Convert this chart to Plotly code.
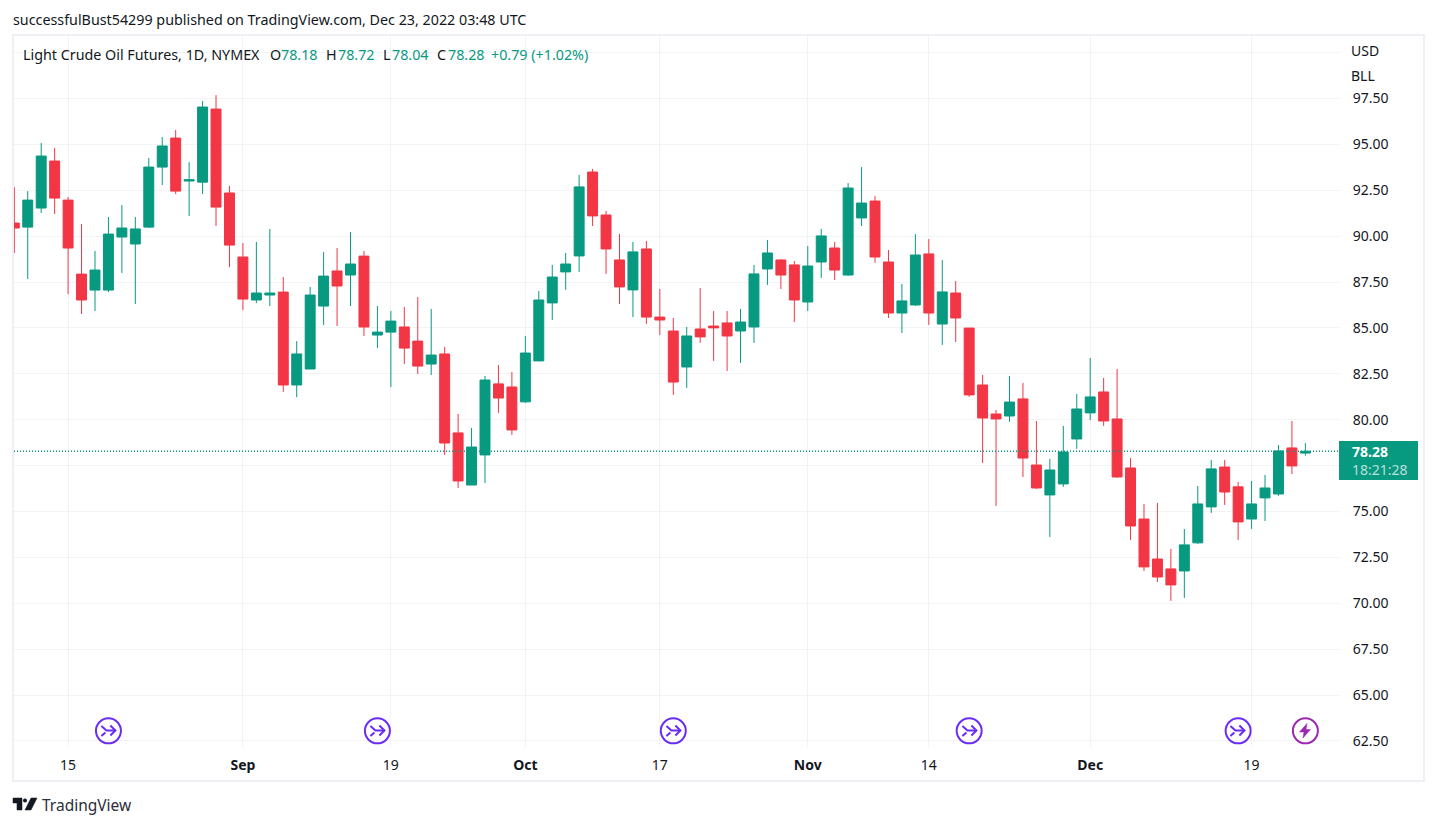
import pandas as pd
import plotly.graph_objects as go

# trading days shown, Labor Day and Thanksgiving have no bar
dates = [d.strftime("%Y-%m-%d") for d in pd.bdate_range("2022-08-09", "2022-12-23") if d.strftime("%Y-%m-%d") not in ("2022-09-05", "2022-11-24")]

opens = [90.71, 90.49, 91.53, 94.09, 91.96, 87.93, 87.06, 87.06, 89.95, 89.57,
         90.49, 93.76, 95.34, 93.00, 92.94, 96.92, 92.35, 88.86, 86.52, 86.79,
         86.95, 81.89, 82.76, 86.19, 88.10, 87.88, 88.91, 84.61, 84.77, 85.05,
         84.28, 83.03, 83.58, 79.28, 76.44, 78.08, 81.95, 81.78, 80.97, 83.20,
         86.36, 88.05, 88.92, 93.49, 91.15, 88.70, 87.07, 89.30, 85.59, 84.83,
         82.87, 84.94, 85.10, 85.27, 84.83, 85.05, 88.21, 88.70, 88.43, 86.41,
         88.59, 89.35, 87.88, 90.99, 91.91, 88.59, 85.81, 86.25, 89.03, 85.21,
         86.90, 84.99, 81.89, 80.31, 80.20, 81.13, 77.53, 75.90, 76.50, 78.95,
         80.37, 81.51, 80.04, 77.37, 74.59, 72.41, 71.87, 71.76, 73.29, 75.25,
         77.42, 76.34, 74.59, 75.74, 75.95, 78.46, 78.18]
highs = [92.67, 92.45, 95.07, 94.80, 92.13, 90.66, 89.19, 91.04, 91.69, 91.04,
         94.25, 95.40, 95.78, 94.03, 97.36, 97.68, 92.73, 89.62, 89.68, 90.39,
         87.77, 84.28, 87.23, 89.13, 89.35, 90.22, 89.19, 86.19, 85.92, 86.14,
         86.68, 86.03, 83.96, 80.31, 79.55, 82.38, 82.98, 82.60, 84.56, 87.01,
         88.43, 89.08, 93.33, 93.66, 91.37, 90.12, 89.68, 89.73, 87.12, 85.54,
         85.05, 87.17, 85.92, 85.92, 86.03, 88.43, 89.79, 88.75, 88.64, 89.46,
         90.39, 89.68, 92.89, 93.76, 92.18, 89.24, 87.39, 90.11, 89.84, 88.70,
         87.55, 84.99, 82.44, 80.53, 82.38, 82.00, 79.93, 77.86, 79.66, 81.40,
         83.36, 82.27, 82.76, 77.91, 75.41, 75.46, 72.96, 74.05, 76.39, 77.81,
         77.81, 76.61, 76.66, 76.99, 78.62, 79.93, 78.72]
lows = [89.08, 87.66, 91.26, 91.20, 86.84, 85.76, 85.92, 86.95, 87.99, 86.30,
        90.44, 92.78, 92.29, 91.09, 92.29, 90.55, 88.31, 85.97, 86.35, 86.19,
        81.51, 81.23, 82.76, 85.16, 85.10, 86.19, 84.56, 83.90, 81.78, 83.03,
        82.49, 82.43, 78.08, 76.28, 76.44, 76.55, 80.37, 79.17, 80.91, 83.20,
        85.43, 87.07, 88.05, 90.55, 87.94, 86.30, 85.59, 85.21, 84.61, 81.35,
        81.73, 84.18, 83.20, 82.65, 83.09, 84.18, 87.34, 87.12, 85.32, 85.92,
        87.72, 87.61, 87.83, 90.55, 88.54, 85.54, 84.72, 86.19, 85.16, 84.07,
        84.23, 81.24, 77.64, 75.30, 79.88, 76.88, 76.23, 73.61, 76.34, 78.41,
        79.98, 79.66, 76.83, 73.45, 71.76, 71.16, 70.13, 70.29, 73.23, 74.92,
        75.36, 73.45, 74.05, 74.48, 75.85, 77.04, 78.04]
closes = [90.44, 91.96, 94.36, 92.07, 89.35, 86.52, 88.15, 90.11, 90.44, 90.39,
          93.76, 94.91, 92.45, 93.07, 97.03, 91.58, 89.51, 86.57, 86.90, 86.90,
          81.89, 83.58, 86.79, 87.82, 87.28, 88.48, 85.05, 84.77, 85.37, 83.90,
          82.92, 83.52, 78.73, 76.66, 78.51, 82.16, 81.18, 79.44, 83.63, 86.52,
          87.77, 88.48, 92.68, 91.10, 89.30, 87.23, 89.14, 85.59, 85.43, 82.05,
          84.56, 84.51, 85.00, 84.56, 85.32, 87.94, 89.08, 87.88, 86.52, 88.37,
          90.01, 88.15, 92.62, 91.80, 88.86, 85.81, 86.47, 88.97, 85.81, 86.96,
          85.54, 81.35, 80.09, 80.04, 80.96, 77.91, 76.28, 77.26, 78.24, 80.58,
          81.24, 79.93, 76.88, 74.21, 71.98, 71.43, 71.00, 73.18, 75.41, 77.32,
          76.06, 74.43, 75.41, 76.28, 78.30, 77.48, 78.28]

price_ticks = [62.5, 65, 67.5, 70, 72.5, 75, 77.5, 80, 82.5, 85, 87.5, 90, 92.5, 95, 97.5, 100]
price_labels = ["62.50", "65.00", "67.50", "70.00", "72.50", "75.00", "77.50", "80.00",
                "82.50", "85.00", "87.50", "90.00", "92.50", "95.00", "97.50", ""]
time_ticks = ["2022-08-15", "2022-09-01", "2022-09-19", "2022-10-03", "2022-10-17",
              "2022-11-01", "2022-11-14", "2022-12-01", "2022-12-19"]
time_labels = ["15", "<b>Sep</b>", "19", "<b>Oct</b>", "17", "<b>Nov</b>", "14", "<b>Dec</b>", "19"]

event_days = ["2022-08-18", "2022-09-16", "2022-10-18", "2022-11-17", "2022-12-16"]
alert_days = ["2022-12-23"]

UP = "#089981"
DOWN = "#F23645"
INK = "#131722"
GRID = "#F2F3F5"
FRAME = "#EFF0F5"
EVENT = "#6A2CF5"
ALERT = "#9C27B0"
FONT = "Noto Sans"

W, H = 1437, 826
LEFT, RIGHT, TOP, BOTTOM = 14, 1339, 36, 747


# page pixels to paper coords, all the furniture around the plot is placed this way
def px(x):
    return (x - LEFT) / (RIGHT - LEFT)


def py(y):
    return 1 - (y - TOP) / (BOTTOM - TOP)


def path_of(points):
    return "M " + " L ".join(f"{px(x):.5f},{py(y):.5f}" for x, y in points)


def label(x, y, text, color=INK, size=14.3, anchor="left"):
    fig.add_annotation(xref="paper", yref="paper", x=px(x), y=py(y), text=text, showarrow=False,
                       xanchor=anchor, yanchor="middle", align="left", borderpad=0, borderwidth=0,
                       font=dict(family=FONT, size=size, color=color))


def line_shape(points, color, width=2, fill=None):
    fig.add_shape(type="path", xref="paper", yref="paper", path=path_of(points) + (" Z" if fill else ""),
                  line=dict(color=color, width=width), fillcolor=fill, layer="above")


fig = go.Figure()

fig.add_trace(go.Candlestick(
    x=dates, open=opens, high=highs, low=lows, close=closes,
    increasing=dict(line=dict(color=UP, width=1), fillcolor=UP),
    decreasing=dict(line=dict(color=DOWN, width=1), fillcolor=DOWN),
    whiskerwidth=0, hoverinfo="skip", showlegend=False,
))

# event badges along the bottom of the plot
fig.add_trace(go.Scatter(
    x=event_days, y=[63.05] * len(event_days), mode="markers", hoverinfo="skip", showlegend=False,
    marker=dict(symbol="circle-open", size=25, color=EVENT, line=dict(color=EVENT, width=2)),
))
fig.add_trace(go.Scatter(
    x=alert_days, y=[63.05] * len(alert_days), mode="markers", hoverinfo="skip", showlegend=False,
    marker=dict(symbol="circle-open", size=25, color=ALERT, line=dict(color=ALERT, width=2)),
))

fig.update_layout(
    width=W, height=H,
    margin=dict(l=LEFT, r=W - RIGHT, t=TOP, b=H - BOTTOM, pad=0),
    paper_bgcolor="white", plot_bgcolor="white",
    boxgap=0.26, boxgroupgap=0,
    font=dict(family=FONT, color=INK),
    xaxis=dict(
        type="category", categoryorder="array", categoryarray=dates,
        range=[-0.022, 98.5], rangeslider=dict(visible=False),
        tickvals=time_ticks, ticktext=time_labels, tickangle=0,
        showgrid=True, gridcolor=GRID, gridwidth=1, zeroline=False, showline=False,
        ticks="outside", ticklen=5, tickcolor="rgba(0,0,0,0)",
        tickfont=dict(family=FONT, size=14, color=INK),
    ),
    yaxis=dict(
        side="right", range=[62.17, 100.9],
        tickvals=price_ticks, ticktext=price_labels,
        showgrid=True, gridcolor=GRID, gridwidth=1, zeroline=False, showline=False,
        ticks="outside", ticklen=10, tickcolor="rgba(0,0,0,0)",
        tickfont=dict(family=FONT, size=14, color=INK),
    ),
)

# last price line
fig.add_shape(type="line", xref="paper", yref="y", x0=0, x1=1, y0=closes[-1], y1=closes[-1],
              line=dict(color=UP, width=1.3, dash="1px,2px"), layer="above")

# chart frame
fig.add_shape(type="rect", xref="paper", yref="paper", x0=px(13), x1=px(1424), y0=py(781), y1=py(35),
              line=dict(color=FRAME, width=2), layer="below")

# last price tag, one note so the two rows stay together
fig.add_shape(type="rect", xref="paper", yref="paper", x0=px(1339), x1=px(1418), y0=py(480), y1=py(441),
              line=dict(width=0), fillcolor=UP, layer="above")
label(1352, 460.5, f"<b>{closes[-1]:.2f}</b><br><span style='color:rgba(255,255,255,0.72)'>18:21:28</span>", "white", 14)

# top texts
label(13, 20, "successfulBust54299 published on TradingView.com, Dec 23, 2022 03:48 UTC")
label(23, 54, "Light Crude Oil Futures, 1D, NYMEX")
for x_letter, letter, x_val, val in [(270, "O", 281, opens[-1]), (326, "H", 338, highs[-1]),
                                     (383, "L", 392, lows[-1]), (437, "C", 448, closes[-1])]:
    label(x_letter, 54, letter)
    label(x_val, 54, f"{val:.2f}", UP)
label(491, 54, "+0.79 (+1.02%)", UP)
label(1351, 51, "USD", INK, 14)
label(1351, 75, "BLL", INK, 14)

# glyphs inside the badges
for cx in (108.4, 377.4, 673.4, 969.4, 1237.4):
    line_shape([(cx - 7, 726), (cx - 2, 730.5), (cx + 7, 730.5)], EVENT)
    line_shape([(cx + 2, 725.5), (cx + 7, 730.5), (cx + 2, 735.5)], EVENT)
    line_shape([(cx - 7, 736), (cx - 3, 732.5)], EVENT)
line_shape([(1307, 723.5), (1299.5, 732), (1304, 732), (1303, 738), (1310.5, 729.5), (1306, 729.5)],
           ALERT, 0.5, ALERT)

# TradingView mark and word
line_shape([(13, 798), (22, 798), (22, 810), (17, 810), (17, 803), (13, 803)], INK, 0.5, INK)
fig.add_shape(type="circle", xref="paper", yref="paper", x0=px(23), x1=px(27), y0=py(802.5), y1=py(798.5),
              line=dict(width=0), fillcolor=INK)
line_shape([(31, 798), (37, 798), (31, 810), (25, 810)], INK, 0.5, INK)
label(42, 805, "TradingView", "#2A2E39", 15.5)

fig.write_html("out.html", config=dict(displayModeBar=False), post_script="document.body.style.margin='0';")
